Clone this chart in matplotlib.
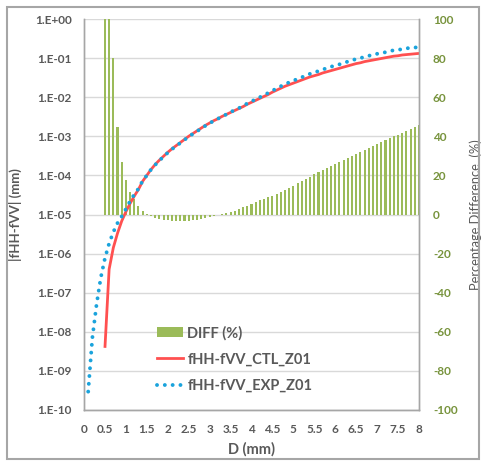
import matplotlib
matplotlib.use("Agg")
import matplotlib.pyplot as plt
from matplotlib.patches import Rectangle, Patch
from matplotlib.lines import Line2D

# D (mm) for the bars and the CTL curve
d_ctl = [0.5, 0.6, 0.7, 0.8, 0.9, 1.0, 1.1, 1.2, 1.3, 1.4, 1.5, 1.6, 1.7, 1.8, 1.9,
         2.0, 2.1, 2.2, 2.3, 2.4, 2.5, 2.6, 2.7, 2.8, 2.9, 3.0, 3.1, 3.2, 3.3, 3.4,
         3.5, 3.6, 3.7, 3.8, 3.9, 4.0, 4.1, 4.2, 4.3, 4.4, 4.5, 4.6, 4.7, 4.8, 4.9,
         5.0, 5.1, 5.2, 5.3, 5.4, 5.5, 5.6, 5.7, 5.8, 5.9, 6.0, 6.1, 6.2, 6.3, 6.4,
         6.5, 6.6, 6.7, 6.8, 6.9, 7.0, 7.1, 7.2, 7.3, 7.4, 7.5, 7.6, 7.7, 7.8, 7.9, 8.0]

# D (mm) for the EXP curve
d_exp = [0.1, 0.2, 0.3, 0.4] + d_ctl

# DIFF (%) bars
diff_pct = [250, 180, 80, 45, 27, 17.5, 11.5, 8.0, 4.2, 1.8, 0.4, -0.8, -1.6, -2.2, -2.7,
            -3.0, -3.2, -3.3, -3.3, -3.3, -3.2, -3.0, -2.7, -2.3, -1.8, -1.3, -0.8, -0.3, 0.2, 0.7,
            1.3, 2.0, 2.8, 3.6, 4.5, 5.4, 6.3, 7.2, 8.0, 8.8, 9.6, 10.6, 11.6, 12.6, 13.6,
            14.8, 16.0, 17.2, 18.3, 19.4, 20.5, 21.6, 22.7, 23.8, 24.9, 25.9, 26.9, 27.9, 28.9, 29.9,
            30.9, 31.9, 32.9, 33.9, 34.9, 35.9, 37.0, 38.1, 39.0, 40.0, 40.9, 41.8, 42.8, 43.7, 44.7, 45.7]

# log10 of |fHH-fVV| (mm)
ctl_log10 = [-8.41, -6.40, -5.85, -5.48, -5.17, -4.93, -4.72, -4.53, -4.36, -4.15, -4.00, -3.85, -3.72, -3.61, -3.51,
             -3.41, -3.32, -3.24, -3.16, -3.08, -3.00, -2.93, -2.86, -2.79, -2.72, -2.66, -2.60, -2.55, -2.49, -2.44,
             -2.39, -2.34, -2.29, -2.24, -2.18, -2.13, -2.08, -2.03, -1.98, -1.93, -1.87, -1.82, -1.77, -1.72, -1.68,
             -1.64, -1.60, -1.56, -1.52, -1.48, -1.45, -1.42, -1.38, -1.35, -1.32, -1.29, -1.26, -1.23, -1.20, -1.17,
             -1.14, -1.12, -1.09, -1.07, -1.05, -1.03, -1.01, -0.99, -0.97, -0.95, -0.94, -0.92, -0.91, -0.90, -0.89, -0.88]

exp_log10 = [-9.53, -8.15, -7.30, -6.62,
             -6.12, -5.74, -5.45, -5.22, -5.05, -4.86, -4.66, -4.49, -4.34, -4.14, -4.00, -3.85, -3.73, -3.62, -3.52,
             -3.42, -3.33, -3.25, -3.17, -3.09, -3.01, -2.94, -2.87, -2.80, -2.73, -2.67, -2.60, -2.55, -2.49, -2.44,
             -2.38, -2.33, -2.28, -2.22, -2.16, -2.11, -2.05, -2.00, -1.95, -1.89, -1.83, -1.78, -1.72, -1.67, -1.62,
             -1.58, -1.53, -1.49, -1.45, -1.40, -1.37, -1.33, -1.29, -1.26, -1.22, -1.19, -1.16, -1.12, -1.09, -1.06,
             -1.02, -1.00, -0.97, -0.94, -0.92, -0.89, -0.87, -0.85, -0.82, -0.80, -0.79, -0.77, -0.75, -0.74, -0.73, -0.72]

x_ticks = [0, 0.5, 1, 1.5, 2, 2.5, 3, 3.5, 4, 4.5, 5, 5.5, 6, 6.5, 7, 7.5, 8]
x_labels = ['0', '0.5', '1', '1.5', '2', '2.5', '3', '3.5', '4', '4.5', '5', '5.5', '6', '6.5', '7', '7.5', '8']
left_ticks = [1e0, 1e-1, 1e-2, 1e-3, 1e-4, 1e-5, 1e-6, 1e-7, 1e-8, 1e-9, 1e-10]
left_labels = ['1.E+00', '1.E-01', '1.E-02', '1.E-03', '1.E-04', '1.E-05', '1.E-06', '1.E-07', '1.E-08', '1.E-09', '1.E-10']
right_ticks = [100, 80, 60, 40, 20, 0, -20, -40, -60, -80, -100]

plt.rcParams['font.family'] = ['Lato', 'DejaVu Sans']
gray_txt = '#595959'
green = '#9bbb59'
green_txt = '#77933c'
red = '#ff5050'
blue = '#1aa3dc'
dots = (0, (0.01, 2.0))

fig = plt.figure(figsize=(4.85, 4.62), dpi=100)
fig.patches.append(Rectangle((7 / 485, 3 / 462), 472 / 485, 452 / 462, transform=fig.transFigure,
                             fill=False, edgecolor='#a6a6a6', linewidth=1.5))

ax = fig.add_axes([84 / 485, 1 - 410 / 462, 335 / 485, 391 / 462])
ax2 = ax.twinx()
ax.set_zorder(ax2.get_zorder() + 1)
ax.patch.set_visible(False)

# bars on the secondary (percent) axis
ax2.bar(d_ctl, diff_pct, width=0.048, color=green, zorder=2, antialiased=False)
ax2.set_ylim(-100, 100)
ax2.set_yticks(right_ticks)
ax2.set_yticklabels([str(t) for t in right_ticks])
ax2.tick_params(axis='y', length=0, colors=green_txt, labelsize=8.5, pad=10)
for lab in ax2.get_yticklabels():
    lab.set_fontweight('bold')
ax2.set_ylabel('Percentage Difference  (%)', color=gray_txt, fontsize=9.3)
ax2.yaxis.set_label_coords(1.152, 0.5)
ax2.grid(True, color='#d9d9d9', linewidth=1.0, zorder=0)
ax2.set_axisbelow(True)

# curves on the log axis
ax.plot(d_ctl, [10 ** v for v in ctl_log10], color=red, linewidth=2.0, solid_capstyle='butt')
ax.plot(d_exp, [10 ** v for v in exp_log10], color=blue, linewidth=2.8,
        linestyle=dots, dash_capstyle='round')
ax.set_yscale('log')
ax.set_ylim(1e-10, 1e0)
ax.set_yticks(left_ticks)
ax.set_yticklabels(left_labels)
ax.yaxis.set_minor_locator(matplotlib.ticker.NullLocator())
ax.set_xlim(0, 8)
ax.set_xticks(x_ticks)
ax.set_xticklabels(x_labels)
ax.tick_params(axis='both', length=0, colors=gray_txt, labelsize=8.5)
ax.tick_params(axis='y', pad=9)
ax.tick_params(axis='x', pad=10)
for lab in ax.get_yticklabels() + ax.get_xticklabels():
    lab.set_fontweight('bold')
ax.set_ylabel('|fHH-fVV| (mm)', color=gray_txt, fontsize=9.5, fontweight='bold')
ax.yaxis.set_label_coords(-0.185, 0.5)
ax.set_xlabel('D (mm)', color=gray_txt, fontsize=10.5, fontweight='bold', labelpad=5)

for a in (ax, ax2):
    a.spines['top'].set_visible(False)
    for s in ('left', 'right', 'bottom'):
        a.spines[s].set_color('#a6a6a6')
        a.spines[s].set_linewidth(1.0)

handles = [Patch(facecolor=green, edgecolor='none'),
           Line2D([], [], color=red, linewidth=2.0),
           Line2D([], [], color=blue, linewidth=2.8, linestyle=dots, dash_capstyle='round')]
leg = ax.legend(handles, ['DIFF (%)', 'fHH-fVV_CTL_Z01', 'fHH-fVV_EXP_Z01'],
                loc='lower left', bbox_to_anchor=(0.18, 0.01), frameon=False,
                fontsize=10.5, handlelength=1.75, handletextpad=0.3, labelspacing=0.85)
for t in leg.get_texts():
    t.set_color(gray_txt)
    t.set_fontweight('bold')

plt.savefig('out.png', dpi=100)
